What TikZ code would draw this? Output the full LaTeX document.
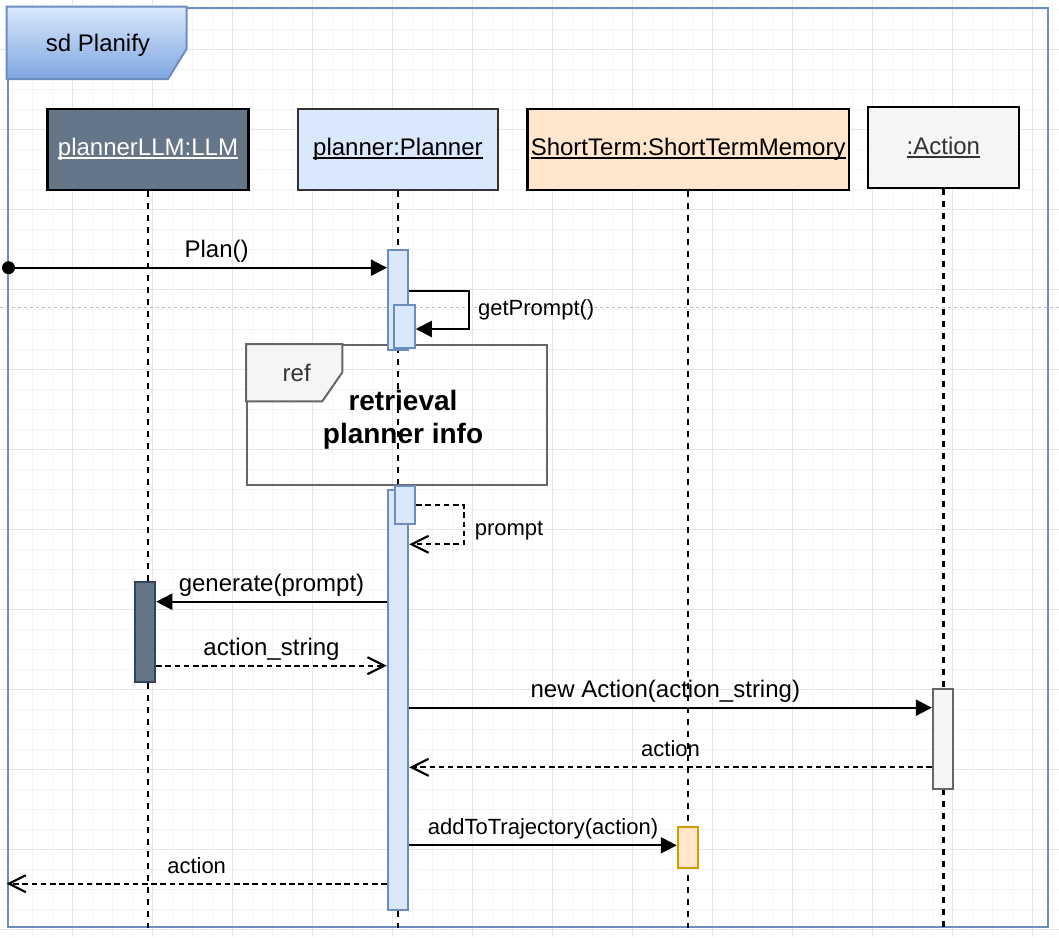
\documentclass[tikz,border=0pt]{standalone}
\usepackage{fontspec}
\setmainfont{Liberation Sans}
\usepackage{tikz}
\usetikzlibrary{arrows.meta, positioning, calc}
\definecolor{pbluefill}{HTML}{DAE8FC}
\definecolor{pblueline}{HTML}{6C8EBF}
\definecolor{pbluedark}{HTML}{7EA6E0}
\definecolor{slatefill}{HTML}{647687}
\definecolor{slateline}{HTML}{314354}
\definecolor{peachfill}{HTML}{FFE6CC}
\definecolor{peachline}{HTML}{D79B00}
\definecolor{greyfill}{HTML}{F5F5F5}
\definecolor{greyline}{HTML}{666666}
\definecolor{greytext}{HTML}{333333}
\newcommand{\ulname}[1]{\setbox0=\hbox{#1}\rlap{\rule[-3.3pt]{\wd0}{1.6pt}}\box0}

\begin{document}
\begin{tikzpicture}[
    x=1pt, y=-1pt,
    head/.style={rectangle, draw=black, line width=2.2pt, minimum height=81pt, inner sep=0pt, font=\fontsize{24}{28.8}\selectfont},
    bar/.style={rectangle, line width=2pt, minimum width=20.5pt, inner sep=0pt, anchor=north},
    lifeline/.style={line width=2.6pt, dash pattern=on 5.5pt off 6.5pt},
    msg/.style={line width=2.2pt, -{Triangle[length=16pt, width=16pt]}},
    ret/.style={line width=2.1pt, dash pattern=on 5.5pt off 3.7pt, -{Straight Barb[length=17pt, width=17pt]}},
    lbl/.style={inner sep=0pt, anchor=base, yshift=10.5pt, font=\fontsize{24}{28.8}\selectfont},
    slbl/.style={lbl, font=\fontsize{22}{26.4}\selectfont},
    sidelbl/.style={inner sep=0pt, anchor=west, font=\fontsize{22}{26.4}\selectfont},
    gridminor/.style={gray!9, line width=1pt},
    gridmajor/.style={gray!20, line width=1pt},
]

% Page and grid
\useasboundingbox (0,0) rectangle (1059,937);
\fill[white] (0,0) rectangle (1059,937);
\foreach \gx in {12.7,32.7,...,1059} \draw[gridminor] (\gx,0) -- (\gx,937);
\foreach \gy in {9.3,29.3,...,937} \draw[gridminor] (0,\gy) -- (1059,\gy);
\foreach \gx in {72.7,152.7,...,1059} \draw[gridmajor] (\gx,0) -- (\gx,937);
\foreach \gy in {49.3,129.3,...,937} \draw[gridmajor] (0,\gy) -- (1059,\gy);
\draw[gray!50, line width=0.7pt, dash pattern=on 3pt off 3pt] (0,307) -- (1059,307);

% Frame
\node[draw=pblueline, line width=2pt, minimum width=1040.5pt, minimum height=919.5pt, inner sep=0pt] (sd) at (527.75,467.25) {};
\draw[top color=pbluefill, bottom color=pbluedark, draw=pblueline, line width=2pt] (sd.north west) -- ++(180,0) -- ++(0,42.5) -- ++(-18.5,30) -- ++(-161.5,0) -- cycle;
\node[font=\fontsize{24}{28.8}\selectfont] (sdname) at (98,45.5) {sd Planify};

% Lifeline heads
\node[head, fill=slatefill, text=white, minimum width=201pt] (llm) at (148,149.5) {\ulname{plannerLLM:LLM}};
\node[head, fill=pbluefill, draw=black!80, minimum width=200.5pt, right=47pt of llm] (planner) {\ulname{planner:Planner}};
\node[head, fill=peachfill, minimum width=321.5pt, right=27pt of planner] (stm) {\ulname{ShortTerm:ShortTermMemory}};
\node[head, fill=greyfill, text=greytext, minimum width=150.5pt, right=17pt of stm, yshift=2pt] (act) {\ulname{:Action}};

% Lifelines
\draw[lifeline] (llm.south) -- (llm.south |- sd.south);
\draw[lifeline] (planner.south) -- (planner.south |- sd.south);
\draw[lifeline] (stm.south) -- (stm.south |- sd.south);
\draw[lifeline] (act.south) -- (act.south |- sd.south);

% Ref fragment
\node[draw=greyline, line width=2pt, minimum width=300pt, minimum height=140pt, inner sep=0pt] (ref) at (397,415) {};
\draw[fill=greyfill, draw=greyline, line width=2pt] (ref.north west) -- ++(96.3,0) -- ++(0,28.3) -- ++(-20,29) -- ++(-76.3,0) -- cycle;
\node[text=greytext, font=\fontsize{24}{28.8}\selectfont] (reftag) at (296.7,373) {ref};
\node[align=center, font=\fontsize{28}{33.5}\selectfont\bfseries] (refname) at (403,420) {retrieval\\planner info};

% Activation bars
\node[bar, fill=pbluefill, draw=pblueline, minimum height=100pt] (plbar1) at (398.2,249) {};
\node[bar, fill=pbluefill, draw=pblueline, minimum height=43pt] (plsub1) at (404.5,304) {};
\node[bar, fill=pbluefill, draw=pblueline, minimum height=420pt] (plbar2) at (398,489.3) {};
\node[bar, fill=pbluefill, draw=pblueline, minimum height=38pt] (plsub2) at (405,484.7) {};
\node[bar, fill=slatefill, draw=slateline, minimum height=100.3pt] (llmbar) at (145,580.7) {};
\node[bar, fill=greyfill, draw=greyline, minimum height=100.6pt] (actbar) at (943.1,687.7) {};
\node[bar, fill=peachfill, draw=peachline, minimum height=41.6pt] (stmbar) at (688,825.7) {};

% Messages
\node[circle, fill=black, minimum size=13pt, inner sep=0pt] (found) at (8.5,267.7) {};
\draw[msg] (found.center) -- node[lbl, pos=0.55] {Plan()} (found -| plbar1.west);
\draw[msg] ([yshift=-42pt]plbar1.north east) -- ++(59.6,0) |- node[sidelbl, pos=0.25, xshift=8pt] {getPrompt()} ([yshift=-25pt]plsub1.north east);
\draw[ret] ([yshift=-20pt]plsub2.north east) -- ++(47.5,0) |- node[sidelbl, pos=0.33, xshift=10pt] {prompt} ([yshift=-55pt]plbar2.north east);
\draw[msg] ([yshift=-21pt]llmbar.north -| plbar2.west) -- node[lbl, midway] {generate(prompt)} ([yshift=-21pt]llmbar.north east);
\draw[ret] ([yshift=-85pt]llmbar.north east) -- node[lbl, midway] {action\_string} ([yshift=-85pt]llmbar.north -| plbar2.west);
\draw[msg] ([yshift=-20pt]actbar.north -| plbar2.east) -- node[lbl, pos=0.49] {new Action(action\_string)} ([yshift=-20pt]actbar.north west);
\draw[ret] ([yshift=-79.6pt]actbar.north west) -- node[slbl, midway] {action} ([yshift=-79.6pt]actbar.north -| plbar2.east);
\draw[msg] ([yshift=-19.6pt]stmbar.north -| plbar2.east) -- node[slbl, midway] {addToTrajectory(action)} ([yshift=-19.6pt]stmbar.north west);
\draw[ret] ([yshift=27.6pt]plbar2.south west) -- node[slbl, midway] {action} ([yshift=27.6pt]plbar2.south -| sd.west);

\end{tikzpicture}
\end{document}
